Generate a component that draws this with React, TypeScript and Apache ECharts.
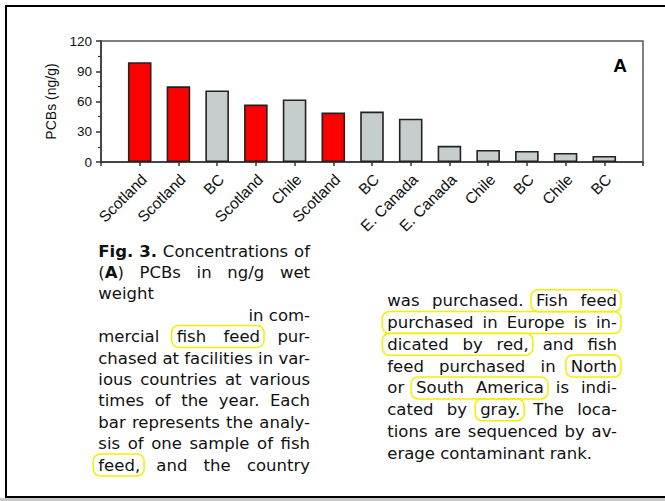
import React, { useEffect, useRef } from 'react';
import * as echarts from 'echarts';

// ---- chart data ----
const categories = ['Scotland', 'Scotland', 'BC', 'Scotland', 'Chile', 'Scotland', 'BC', 'E. Canada', 'E. Canada', 'Chile', 'BC', 'Chile', 'BC'];
const pcbValues = [99, 75, 71, 57, 62, 49, 50, 43, 16, 12, 11, 9, 6];
const purchaseRegion = ['Europe', 'Europe', 'Americas', 'Europe', 'Americas', 'Europe', 'Americas', 'Americas', 'Americas', 'Americas', 'Americas', 'Americas', 'Americas'];
const yTicks = [0, 30, 60, 90, 120];
const regionColors: Record<string, string> = { Europe: '#ff0000', Americas: '#c6cdcd' };

// ---- caption (words marked *x* are bold) ----
type CapLine = { text: string; align: 'justify' | 'left' | 'right'; hl?: [number, number][] };
const leftCaption: CapLine[] = [
  { text: '*Fig.* *3.* Concentrations of', align: 'justify' },
  { text: '(*A*) PCBs in ng/g wet', align: 'justify' },
  { text: 'weight', align: 'left' },
  { text: 'in com-', align: 'right' },
  { text: 'mercial fish feed pur-', align: 'justify', hl: [[1, 2]] },
  { text: 'chased at facilities in var-', align: 'justify' },
  { text: 'ious countries at various', align: 'justify' },
  { text: 'times of the year. Each', align: 'justify' },
  { text: 'bar represents the analy-', align: 'justify' },
  { text: 'sis of one sample of fish', align: 'justify' },
  { text: 'feed, and the country', align: 'justify', hl: [[0, 0]] },
];
const rightCaption: CapLine[] = [
  { text: 'was purchased. Fish feed', align: 'justify', hl: [[2, 3]] },
  { text: 'purchased in Europe is in-', align: 'justify', hl: [[0, 4]] },
  { text: 'dicated by red, and fish', align: 'justify', hl: [[0, 2]] },
  { text: 'feed purchased in North', align: 'justify', hl: [[3, 3]] },
  { text: 'or South America is indi-', align: 'justify', hl: [[1, 2]] },
  { text: 'cated by gray. The loca-', align: 'justify', hl: [[2, 2]] },
  { text: 'tions are sequenced by av-', align: 'justify' },
  { text: 'erage contaminant rank.', align: 'left' },
];

const CAP_FONT = '"DejaVu Sans"';
const CAP_SIZE = 16.5;
const AX_FONT = '"Liberation Sans", Arial, sans-serif';

function buildCaption(): any[] {
  const canvas = document.createElement('canvas');
  const ctx = canvas.getContext('2d') as CanvasRenderingContext2D;
  const measure = (t: string, bold: boolean) => {
    ctx.font = `${bold ? 'bold ' : ''}${CAP_SIZE}px ${CAP_FONT}`;
    return ctx.measureText(t).width;
  };
  const texts: any[] = [];
  const rects: any[] = [];
  const layout = (lines: CapLine[], x0: number, x1: number, y0: number, dy: number) => {
    lines.forEach((ln, i) => {
      const y = y0 + i * dy;
      const words = ln.text.split(' ').map((w) => {
        const parts = w.split('*');
        const segs: { t: string; bold: boolean; w: number }[] = [];
        parts.forEach((p, k) => {
          if (p) segs.push({ t: p, bold: k % 2 === 1, w: measure(p, k % 2 === 1) });
        });
        return { segs, w: segs.reduce((s, g) => s + g.w, 0) };
      });
      const total = words.reduce((s, w) => s + w.w, 0);
      const sp = measure(' ', false);
      let gap = sp;
      let x = x0;
      if (ln.align === 'justify' && words.length > 1) gap = (x1 - x0 - total) / (words.length - 1);
      else if (ln.align === 'right') x = x1 - (total + sp * (words.length - 1));
      const starts: number[] = [];
      words.forEach((w) => {
        starts.push(x);
        let text = '';
        const rich: any = {
          n: { fontSize: CAP_SIZE, fontFamily: CAP_FONT, fontWeight: 'normal', fill: '#111', lineHeight: 17 },
          b: { fontSize: CAP_SIZE, fontFamily: CAP_FONT, fontWeight: 'bold', fill: '#111', lineHeight: 17 },
        };
        w.segs.forEach((g) => {
          text += `{${g.bold ? 'b' : 'n'}|${g.t}}`;
        });
        texts.push({
          type: 'text', x, y, z: 10,
          style: {
            text, rich, fill: '#111', fontSize: CAP_SIZE, fontFamily: CAP_FONT, lineHeight: 17,
            align: 'left', verticalAlign: 'middle', textAlign: 'left', textVerticalAlign: 'middle',
          },
        });
        x += w.w + gap;
      });
      (ln.hl || []).forEach(([a, b]) => {
        const rx = starts[a] - 5;
        const rw = starts[b] + words[b].w - starts[a] + 9;
        rects.push({
          type: 'rect', z: 5,
          shape: { x: rx, y: y - 11, width: rw, height: 22, r: 7 },
          style: { fill: 'none', stroke: '#f4ee00', lineWidth: 1.5 },
        });
      });
    });
  };
  layout(leftCaption, 98.3, 310, 251, 21.4);
  layout(rightCaption, 387.3, 617, 300.7, 21.8);
  return [...rects, ...texts];
}

export default function App() {
  const ref = useRef<HTMLDivElement>(null);
  useEffect(() => {
    document.body.style.margin = '0';
    if (!ref.current) return;
    const chart = echarts.init(ref.current, undefined, { renderer: 'svg' });
    const xData = ['', ...categories, ''];
    const barData: any[] = [
      '-',
      ...pcbValues.map((v, i) => ({
        value: v,
        itemStyle: { color: regionColors[purchaseRegion[i]], borderColor: '#222', borderWidth: 1.6 },
      })),
      '-',
    ];
    const option: any = {
      animation: false,
      backgroundColor: '#ffffff',
      grid: {
        left: 101, top: 41, width: 542, height: 121, show: true,
        borderColor: '#555', borderWidth: 1.5, backgroundColor: 'transparent', containLabel: false,
      },
      xAxis: {
        type: 'category',
        data: xData,
        boundaryGap: false,
        axisLine: { show: true, lineStyle: { color: '#333', width: 1.5 } },
        axisTick: { show: true, length: 4, interval: 0, lineStyle: { color: '#333', width: 1.5 } },
        axisLabel: {
          interval: 0, rotate: 45, margin: 19, fontSize: 15.5, fontFamily: AX_FONT, color: '#111',
          padding: [0, -6, 0, 0],
        },
        splitLine: { show: false },
      },
      yAxis: {
        type: 'value',
        min: yTicks[0],
        max: yTicks[yTicks.length - 1],
        interval: yTicks[1] - yTicks[0],
        name: 'PCBs (ng/g)',
        nameLocation: 'middle',
        nameRotate: 90,
        nameGap: 43,
        nameTextStyle: { fontSize: 14, fontFamily: AX_FONT, color: '#111' },
        axisLine: { show: true, lineStyle: { color: '#333', width: 1.5 } },
        axisTick: { show: true, length: 5, lineStyle: { color: '#333', width: 1.5 } },
        minorTick: { show: true, splitNumber: 2, length: 3, lineStyle: { color: '#333', width: 1.2 } },
        axisLabel: { fontSize: 13.5, fontFamily: AX_FONT, color: '#111', margin: 9 },
        splitLine: { show: false },
      },
      series: [
        {
          type: 'bar',
          data: barData,
          barWidth: 23.6,
        },
      ],
      graphic: [
        {
          type: 'rect', z: 1,
          shape: { x: 6, y: 6, width: 700, height: 491 },
          style: { fill: 'none', stroke: '#000', lineWidth: 2 },
        },
        {
          type: 'rect', z: 1,
          shape: { x: 0, y: 498, width: 665, height: 3 },
          style: { fill: '#c8c8c8' },
        },
        {
          type: 'text', x: 620, y: 65.5, z: 10,
          style: {
            text: 'A', fontSize: 19, fontWeight: 'bold', fontFamily: AX_FONT, fill: '#000',
            align: 'center', verticalAlign: 'middle', textAlign: 'center', textVerticalAlign: 'middle',
          },
        },
        ...buildCaption(),
      ],
    };
    chart.setOption(option);
    return () => chart.dispose();
  }, []);
  return <div ref={ref} style={{ width: 665, height: 501 }} />;
}
